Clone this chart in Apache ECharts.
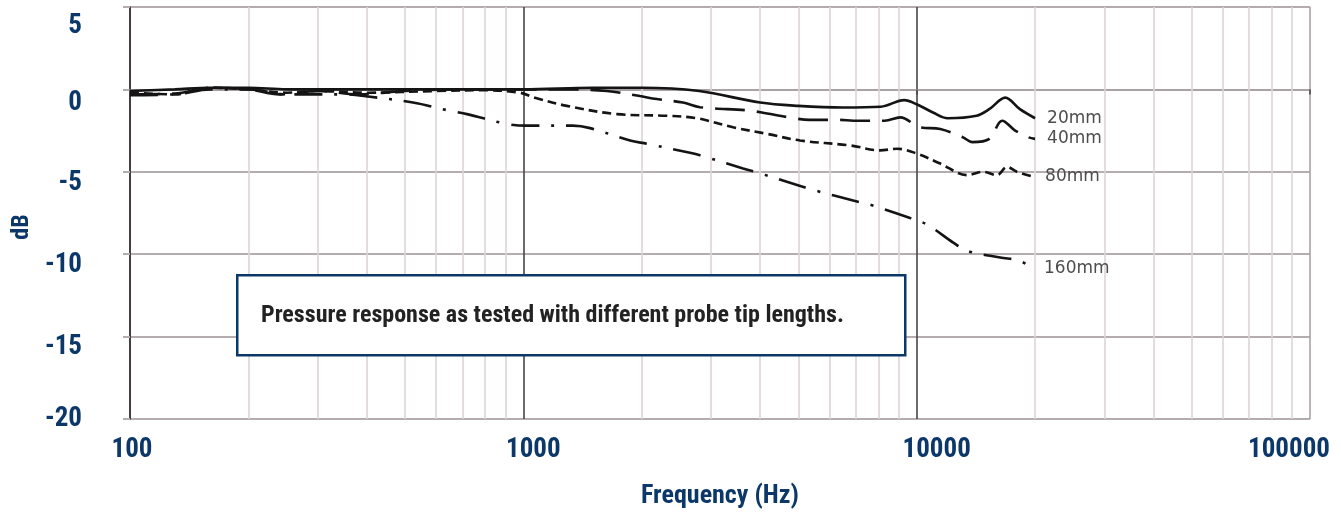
<!DOCTYPE html>
<html>
<head>
<meta charset="utf-8">
<script src="https://cdn.jsdelivr.net/npm/echarts@6/dist/echarts.min.js"></script>
<style>
  html, body { margin: 0; padding: 0; background: #fff; }
  #chart { width: 1341px; height: 514px; }
</style>
</head>
<body>
<div id="chart"></div>
<script>
// frequency (Hz) / level (dB) per probe tip length
const freq20 = [100, 130, 160, 200, 250, 300, 400, 500, 700, 1000, 1500, 2000, 2800, 4000, 5000, 6500, 8100, 9300, 10000, 11000, 12000, 14200, 15300, 16800, 18300, 20000]
const db20 = [-0.1, 0.0, 0.1, 0.1, 0.0, 0.0, 0.0, 0.0, 0.0, 0.0, 0.1, 0.1, -0.1, -0.8, -1.0, -1.1, -1.05, -0.65, -0.9, -1.4, -1.75, -1.6, -1.2, -0.5, -1.2, -1.75]

const freq40 = [100, 130, 160, 200, 240, 300, 380, 500, 700, 1000, 1300, 1630, 1980, 2130, 2545, 2813, 3700, 4040, 4750, 5340, 6380, 6900, 8290, 9080, 10200, 11480, 13100, 13850, 15300, 16500, 17800, 19200, 20000]
const db40 = [-0.3, -0.25, 0.1, 0.0, -0.3, -0.1, -0.3, -0.1, 0.0, 0.0, 0.0, -0.1, -0.4, -0.55, -0.8, -1.08, -1.27, -1.4, -1.7, -1.85, -1.85, -1.9, -1.9, -1.7, -2.3, -2.4, -2.9, -3.2, -3.0, -1.9, -2.5, -2.9, -3.0]

const freq80 = [100, 130, 160, 200, 250, 300, 400, 600, 800, 980, 1070, 1290, 1730, 2320, 2765, 3415, 4170, 5050, 6770, 8070, 8920, 10030, 11480, 13430, 14750, 16000, 16980, 17990, 19770]
const db80 = [-0.2, -0.3, 0.1, 0.0, -0.2, -0.1, -0.2, -0.1, -0.05, -0.2, -0.5, -1.0, -1.5, -1.6, -1.75, -2.3, -2.7, -3.1, -3.4, -3.7, -3.6, -3.9, -4.5, -5.2, -5.0, -5.2, -4.7, -5.0, -5.3]

const freq160 = [100, 130, 160, 200, 250, 300, 350, 408, 524, 651, 719, 909, 1021, 1337, 1478, 1868, 2063, 2653, 2813, 3620, 4000, 4966, 5455, 7050, 7620, 9620, 10620, 12390, 13430, 16300, 18320, 19650]
const db160 = [-0.35, -0.3, 0.0, 0.0, -0.3, -0.3, -0.3, -0.45, -0.8, -1.3, -1.5, -2.1, -2.2, -2.2, -2.35, -3.1, -3.3, -3.85, -4.0, -4.8, -5.1, -5.8, -6.1, -6.8, -7.0, -7.8, -8.2, -9.3, -9.8, -10.2, -10.4, -10.9]

// minor vertical grid lines of the log axis
const minorFreqs = [200, 300, 400, 500, 600, 700, 800, 900,
  2000, 3000, 4000, 5000, 6000, 7000, 8000, 9000,
  20000, 30000, 40000, 50000, 60000, 70000, 80000, 90000]

const navy = '#0b3868'
const labelFont = '"Roboto Condensed", Roboto, sans-serif'

const toPairs = (xs, ys) => xs.map((x, i) => [x, ys[i]])

// small per-label nudges, the original labels are not centred on the lines
const yLabelKey = { '5': 'a', '0': 'b', '-5': 'c', '-10': 'c', '-15': 'c', '-20': 'd' }
const xLabelKey = { '100': 'a', '1000': 'b', '10000': 'c', '100000': 'd' }
const labelStyle = (padding) => ({
  color: navy, fontFamily: labelFont, fontWeight: 'bold', fontSize: 27, padding: padding
})

const curve = (name, xs, ys, type) => ({
  name: name,
  type: 'line',
  data: toPairs(xs, ys),
  smooth: 0.35,
  showSymbol: false,
  z: 5,
  lineStyle: { color: '#141414', width: 2.6, type: type, cap: 'butt' },
  endLabel: {
    show: true,
    formatter: '{a}',
    distance: 12,
    color: '#4d4d4d',
    fontFamily: 'DejaVu Sans',
    fontSize: 17
  }
})

const chart = echarts.init(document.getElementById('chart'))
chart.setOption({
  animation: false,
  grid: { left: 130, right: 31, top: 7, bottom: 92 },
  xAxis: {
    type: 'log',
    logBase: 10,
    min: 100,
    max: 100000,
    name: 'Frequency (Hz)',
    nameLocation: 'middle',
    nameGap: 64,
    nameTextStyle: { color: navy, fontFamily: labelFont, fontWeight: 'bold', fontSize: 26 },
    axisLine: { lineStyle: { color: '#aaa2a2', width: 2 } },
    axisTick: { show: true, length: 5, lineStyle: { color: '#4a4444', width: 1.5 } },
    splitLine: { show: true, lineStyle: { color: ['#4a4444', '#4a4444', '#4a4444', '#aaa2a2'], width: 1.6 } },
    axisLabel: {
      margin: 18,
      formatter: v => '{' + xLabelKey[String(v)] + '|' + v + '}',
      rich: {
        a: labelStyle([0, 0, 0, 4]),
        b: labelStyle([0, 0, 0, 20]),
        c: labelStyle([0, 0, 0, 40]),
        d: labelStyle([0, 42, 0, 0])
      }
    }
  },
  yAxis: {
    type: 'value',
    min: -20,
    max: 5,
    interval: 5,
    name: 'dB',
    nameLocation: 'middle',
    nameGap: 94,
    nameRotate: 90,
    nameTextStyle: { color: navy, fontFamily: labelFont, fontWeight: 'bold', fontSize: 24, padding: [0, 28, 0, 0] },
    axisLine: { show: true, lineStyle: { color: '#3a3434', width: 1.6 } },
    axisTick: { show: true, length: 7, lineStyle: { color: '#b5adad', width: 2 } },
    splitLine: { show: true, lineStyle: { color: '#b5adad', width: 2 } },
    axisLabel: {
      margin: 48,
      formatter: v => '{' + yLabelKey[String(v)] + '|' + v + '}',
      rich: {
        a: labelStyle([38, 0, 0, 0]),
        b: labelStyle([28, 0, 0, 0]),
        c: labelStyle([22, 0, 0, 0]),
        d: labelStyle([0, 0, 0, 0])
      }
    }
  },
  series: [
    {
      name: 'minor',
      type: 'line',
      data: [],
      z: 1,
      silent: true,
      markLine: {
        silent: true,
        symbol: 'none',
        label: { show: false },
        lineStyle: { color: '#dcd5d5', width: 1.6, type: 'solid' },
        data: minorFreqs.map(f => ({ xAxis: f }))
      }
    },
    curve('20mm', freq20, db20, 'solid'),
    curve('40mm', freq40, db40, [30, 12]),
    curve('80mm', freq80, db80, [9, 5]),
    curve('160mm', freq160, db160, [28, 12, 3, 12])
  ],
  graphic: [
    {
      type: 'rect',
      left: 236,
      top: 274,
      z: 100,
      shape: { width: 668, height: 80 },
      style: { fill: '#fff', stroke: navy, lineWidth: 2.5 }
    },
    {
      type: 'text',
      left: 261,
      top: 304,
      z: 101,
      style: {
        text: 'Pressure response as tested with different probe tip lengths.',
        fill: '#222',
        font: 'bold 24px "Roboto Condensed", Roboto, sans-serif'
      }
    }
  ]
})
</script>
</body>
</html>
